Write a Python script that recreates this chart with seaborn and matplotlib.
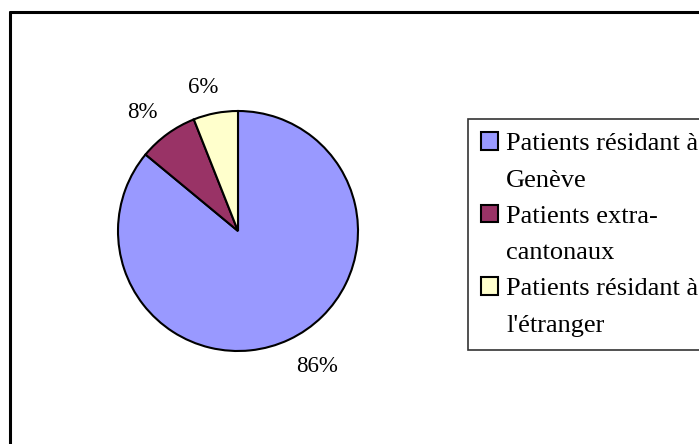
import matplotlib
matplotlib.use("Agg")
import numpy as np
import matplotlib.pyplot as plt
import seaborn as sns
from matplotlib.lines import Line2D
from matplotlib.patches import Rectangle

# ================== données ==================
categories = ["Patients résidant à Genève", "Patients extra-cantonaux", "Patients résidant à l'étranger"]
legend_lines = [["Patients résidant à", "Genève"], ["Patients extra-", "cantonaux"], ["Patients résidant à", "l'étranger"]]
values = [86, 8, 6]
colors = ["#9999FF", "#993366", "#FFFFCC"]

# placement des étiquettes (style Excel)
label_dist = [1.31, 1.27, 1.23]
label_shift = [5, 3, 3]

sns.set_theme(style="white")
plt.rcParams["font.family"] = ["Liberation Serif", "DejaVu Serif"]

W, H = 699, 444
fig = plt.figure(figsize=(W / 100, H / 100), dpi=100)
fig.patch.set_facecolor("white")

# ================== camembert ==================
cx, cy, r = 238, 231, 120
ax = fig.add_axes([(cx - r) / W, (H - cy - r) / H, 2 * r / W, 2 * r / H])
wedges, texts, autotexts = ax.pie(
    values,
    colors=colors,
    startangle=90,
    counterclock=False,
    autopct="%1.0f%%",
    pctdistance=1.27,
    wedgeprops={"edgecolor": "black", "linewidth": 1.5},
    textprops={"fontsize": 16.5, "color": "black"},
)
for w, t, d, s in zip(wedges, autotexts, label_dist, label_shift):
    mid = np.deg2rad((w.theta1 + w.theta2) / 2 + s)
    t.set_position((d * np.cos(mid), d * np.sin(mid)))
ax.set_xlim(-1, 1)
ax.set_ylim(-1, 1)
ax.set_aspect("equal")
ax.axis("off")

# ================== légende ==================
handles, labels = [], []
for w, lines in zip(wedges, legend_lines):
    for i, line in enumerate(lines):
        if i == 0:
            handles.append(Rectangle((0, 0), 1, 1, facecolor=w.get_facecolor(), edgecolor="black", linewidth=1.5))
        else:
            handles.append(Rectangle((0, 0), 1, 1, facecolor="none", edgecolor="none"))
        labels.append(line)

leg = fig.legend(
    handles, labels,
    loc="upper left",
    bbox_to_anchor=(468 / W, 1 - 119 / H),
    borderaxespad=0,
    fontsize=19,
    labelcolor="black",
    frameon=True,
    fancybox=False,
    borderpad=0.5,
    labelspacing=0.5,
    handlelength=0.65,
    handleheight=0.65,
    handletextpad=0.3,
)
leg.get_frame().set_edgecolor("black")
leg.get_frame().set_linewidth(1.2)

# ================== cadre ==================
fig.add_artist(Line2D([10 / W, 10 / W], [0, 1 - 12 / H], transform=fig.transFigure, color="black", lw=2.2))
fig.add_artist(Line2D([10 / W, 1], [1 - 12 / H, 1 - 12 / H], transform=fig.transFigure, color="black", lw=2.2))

fig.savefig("out.png", dpi=100)
